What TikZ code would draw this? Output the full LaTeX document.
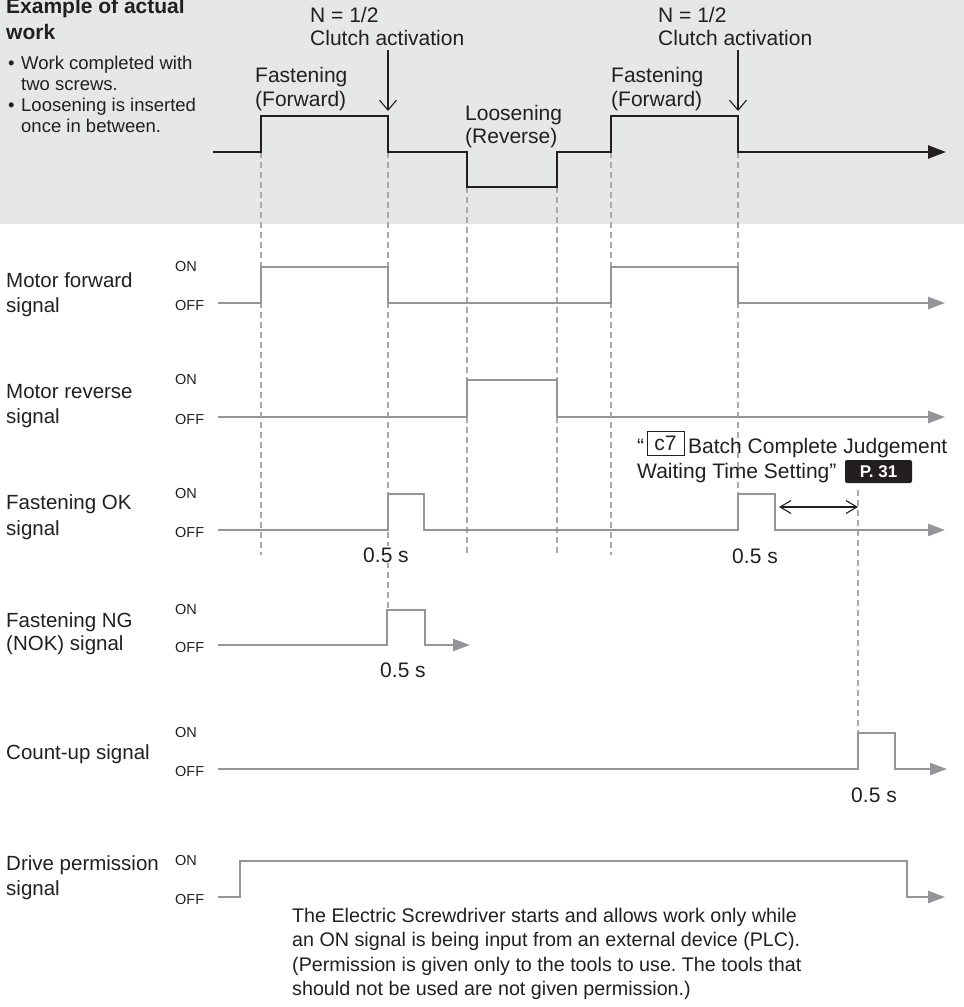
\documentclass[tikz,border=0pt]{standalone}
\usepackage{fontspec}
\setmainfont{Liberation Sans}
\usetikzlibrary{arrows.meta}
\definecolor{bgg}{HTML}{E6E7E8}
\definecolor{sig}{HTML}{939598}
\definecolor{dsh}{HTML}{A7A9AC}
\definecolor{ink}{HTML}{231F20}
\begin{document}
\frenchspacing
\begin{tikzpicture}[x=1pt,y=-1pt,
  wave/.style={line width=2.4pt, draw=ink, line join=miter, -{Triangle[length=18pt,width=13pt]}},
  sigline/.style={line width=2.4pt, draw=sig, line join=miter, -{Triangle[length=17pt,width=12pt]}},
  guide/.style={draw=dsh, line width=1.1pt, dash pattern=on 6pt off 4pt},
  thinarrow/.style={draw=ink, line width=1.1pt},
  lbl/.style={font=\fontsize{20.5}{24}\selectfont, text=ink, inner sep=0pt, anchor=base west},
  toplbl/.style={font=\fontsize{21}{24}\selectfont, text=ink, inner sep=0pt, anchor=base west},
  bul/.style={font=\fontsize{18.5}{21}\selectfont, text=ink, inner sep=0pt, anchor=base west},
  ttl/.style={font=\fontsize{21}{26}\selectfont\bfseries, text=ink, inner sep=0pt, anchor=base west},
  onoff/.style={font=\fontsize{14.5}{16}\selectfont, text=ink, inner sep=0pt, anchor=base west},
  dur/.style={font=\fontsize{21}{24}\selectfont, text=ink, inner sep=1pt, anchor=base, fill=white},
  para/.style={font=\fontsize{19.7}{24}\selectfont, text=ink, inner sep=0pt, anchor=base west}
]
\useasboundingbox (0,0) rectangle (964,1007);
\fill[bgg] (0,0) rectangle (964,224);

% guide lines
\draw[guide] (261,152) -- (261,555);
\draw[guide] (388,152) -- (388,610);
\draw[guide] (467,187) -- (467,555);
\draw[guide] (557,187) -- (557,555);
\draw[guide] (611,152) -- (611,555);
\draw[guide] (738,152) -- (738,494);
\draw[guide] (858,490) -- (858,733);

% title and bullets
\node[ttl] (t1) at (6,13) {Example of actual};
\node[ttl] (t2) at (6,39) {work};
\node[bul] (b1) at (8,69) {•};
\node[bul] (b1a) at (21,69) {Work completed with};
\node[bul] (b1b) at (21,90) {two screws.};
\node[bul] (b2) at (8,111) {•};
\node[bul] (b2a) at (21,111) {Loosening is inserted};
\node[bul] (b2b) at (21,132) {once in between.};

% top labels
\node[toplbl] (n1) at (310,22.5) {N = 1/2};
\node[toplbl] (c1) at (310,45.5) {Clutch activation};
\node[toplbl] (n2) at (658,22.5) {N = 1/2};
\node[toplbl] (c2) at (658,45.5) {Clutch activation};
\node[toplbl] (f1) at (255,82) {Fastening};
\node[toplbl] (f1b) at (255,106) {(Forward)};
\node[toplbl] (f2) at (611,82) {Fastening};
\node[toplbl] (f2b) at (611,106) {(Forward)};
\node[toplbl] (l1) at (465,120) {Loosening};
\node[toplbl] (l1b) at (465,143) {(Reverse)};

\coordinate (ca1) at (388,50);
\coordinate (ca1e) at (388,111);
\coordinate (ca2) at (738,50);
\coordinate (ca2e) at (738,111);
\draw[thinarrow, -{Straight Barb[length=10pt,width=17pt]}] (ca1) -- (ca1e);
\draw[thinarrow, -{Straight Barb[length=10pt,width=17pt]}] (ca2) -- (ca2e);

% top waveform
\draw[wave] (213,152) -- (261,152) -- (261,116) -- (388,116) -- (388,152) -- (467,152) -- (467,187) -- (557,187) -- (557,152) -- (611,152) -- (611,116) -- (738,116) -- (738,152) -- (946,152);

% signal labels
\node[lbl] (mf1) at (6,287) {Motor forward};
\node[lbl] (mf2) at (6,312) {signal};
\node[lbl] (mr1) at (6,398) {Motor reverse};
\node[lbl] (mr2) at (6,423) {signal};
\node[lbl] (ok1) at (6,509) {Fastening OK};
\node[lbl] (ok2) at (6,535) {signal};
\node[lbl] (ng1) at (6,627) {Fastening NG};
\node[lbl] (ng2) at (6,650) {(NOK) signal};
\node[lbl] (cu1) at (6,759) {Count-up signal};
\node[lbl] (dp1) at (6,870) {Drive permission};
\node[lbl] (dp2) at (6,895) {signal};

% ON / OFF
\node[onoff] (mfon) at (175,271) {ON};
\node[onoff] (mfoff) at (175,310) {OFF};
\node[onoff] (mron) at (175,384) {ON};
\node[onoff] (mroff) at (175,424) {OFF};
\node[onoff] (okon) at (175,498) {ON};
\node[onoff] (okoff) at (175,537) {OFF};
\node[onoff] (ngon) at (175,614) {ON};
\node[onoff] (ngoff) at (175,652) {OFF};
\node[onoff] (cuon) at (175,737) {ON};
\node[onoff] (cuoff) at (175,776) {OFF};
\node[onoff] (dpon) at (175,865) {ON};
\node[onoff] (dpoff) at (175,904) {OFF};

% signals
\draw[sigline] (218,303) -- (261,303) -- (261,267) -- (388,267) -- (388,303) -- (611,303) -- (611,267) -- (738,267) -- (738,303) -- (945,303);
\draw[sigline] (218,417) -- (467,417) -- (467,380) -- (557,380) -- (557,417) -- (945,417);
\draw[sigline] (218,530) -- (388,530) -- (388,494) -- (424,494) -- (424,530) -- (738,530) -- (738,494) -- (775,494) -- (775,530) -- (945,530);
\draw[sigline] (218,645) -- (387,645) -- (387,610) -- (425,610) -- (425,645) -- (470,645);
\draw[sigline] (218,769) -- (858,769) -- (858,733) -- (895,733) -- (895,769) -- (947,769);
\draw[sigline] (218,897) -- (240,897) -- (240,861) -- (907,861) -- (907,897) -- (945,897);

% durations
\node[dur] (d1) at (386,562) {0.5 s};
\node[dur] (d2) at (755,563) {0.5 s};
\node[dur] (d3) at (403,677) {0.5 s};
\node[dur] (d4) at (874,802) {0.5 s};

% c7 note
\node[toplbl] (q1) at (637,453) {“};
\node[draw=ink, line width=0.9pt, font=\fontsize{21}{24}\selectfont, text=ink, minimum width=37pt, minimum height=24pt, inner sep=0pt] (c7) at (665.5,443) {c7};
\node[toplbl] (c7t) at (688,453) {Batch Complete Judgement};
\node[toplbl] (c7u) at (637,478) {Waiting Time Setting”};
\node[fill=ink, rounded corners=2pt, minimum width=67pt, minimum height=23pt, inner sep=0pt, text=white, font=\fontsize{17}{20}\selectfont\bfseries] (p31) at (878.5,471.5) {P. 31};
\coordinate (wa) at (779,507);
\coordinate (wb) at (858,507);
\draw[thinarrow, {Straight Barb[length=11pt,width=13pt]}-{Straight Barb[length=11pt,width=13pt]}] (wa) -- (wb);

% paragraph
\node[para] (p1) at (292,922) {The Electric Screwdriver starts and allows work only while};
\node[para] (p2) at (292,946.5) {an ON signal is being input from an external device (PLC).};
\node[para] (p3) at (292,971) {(Permission is given only to the tools to use. The tools that};
\node[para] (p4) at (292,995.5) {should not be used are not given permission.)};
\end{tikzpicture}
\end{document}
